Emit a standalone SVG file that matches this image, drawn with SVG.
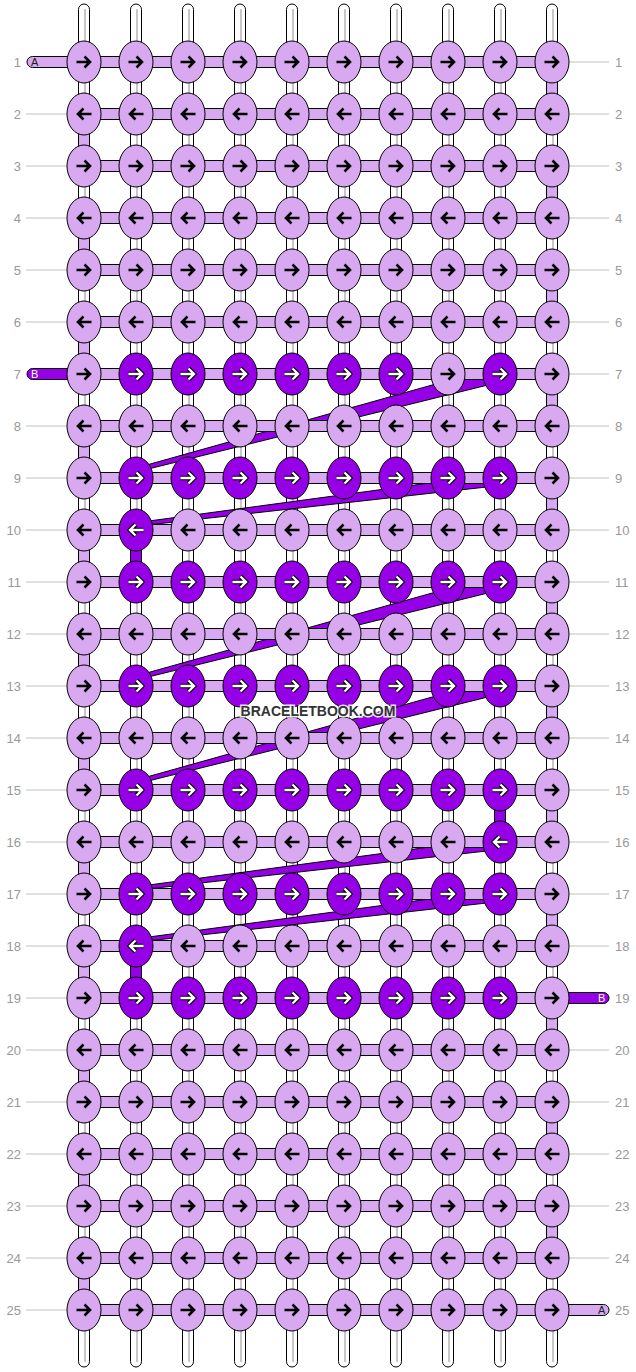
<svg xmlns="http://www.w3.org/2000/svg" xmlns:xlink="http://www.w3.org/1999/xlink" width="636" height="1372" viewBox="0 0 636 1372">
<style>
.w{fill:#fff;stroke:#000;stroke-width:1}
.wl{stroke:#b4b4b4;stroke-width:1.5}
.la{fill:#D8A8F0;stroke:#000;stroke-width:1}
.pu{fill:#9600E6;stroke:#000;stroke-width:1}
.gl{stroke:#c0c0c0;stroke-width:1}
.num{font-family:"Liberation Sans",Arial,sans-serif;font-size:13px;fill:#999}
.ab{fill:none;stroke:#000;stroke-width:2.6}
.ao{fill:none;stroke:#000;stroke-width:4.6}
.aw{fill:none;stroke:#fff;stroke-width:2.4}
.stub{font-family:"Liberation Sans",Arial,sans-serif;font-size:11px}
.wm{font-family:"Liberation Sans",Arial,sans-serif;font-size:14px;font-weight:bold;fill:#333;stroke:#fff;stroke-width:3;stroke-opacity:0.85;paint-order:stroke}
</style>
<defs>
<path id="ar" d="M-7.5,0H5.5M0.5,-5.5L6,0L0.5,5.5"/>
<path id="al" d="M7.5,0H-5.5M-0.5,-5.5L-6,0L-0.5,5.5"/>
<g id="LR"><ellipse rx="17" ry="21" class="la"/><use href="#ar" class="ab"/></g>
<g id="LL"><ellipse rx="17" ry="21" class="la"/><use href="#al" class="ab"/></g>
<g id="DR"><ellipse rx="17" ry="21" class="pu"/><use href="#ar" class="ao"/><use href="#ar" class="aw"/></g>
<g id="DL"><ellipse rx="17" ry="21" class="pu"/><use href="#al" class="ao"/><use href="#al" class="aw"/></g>
</defs>
<g id="label-lines">
<line class="gl" x1="569" y1="62" x2="609" y2="62"/>
<line class="gl" x1="26" y1="114" x2="67" y2="114"/><line class="gl" x1="569" y1="114" x2="609" y2="114"/>
<line class="gl" x1="26" y1="166" x2="67" y2="166"/><line class="gl" x1="569" y1="166" x2="609" y2="166"/>
<line class="gl" x1="26" y1="218" x2="67" y2="218"/><line class="gl" x1="569" y1="218" x2="609" y2="218"/>
<line class="gl" x1="26" y1="270" x2="67" y2="270"/><line class="gl" x1="569" y1="270" x2="609" y2="270"/>
<line class="gl" x1="26" y1="322" x2="67" y2="322"/><line class="gl" x1="569" y1="322" x2="609" y2="322"/>
<line class="gl" x1="569" y1="374" x2="609" y2="374"/>
<line class="gl" x1="26" y1="426" x2="67" y2="426"/><line class="gl" x1="569" y1="426" x2="609" y2="426"/>
<line class="gl" x1="26" y1="478" x2="67" y2="478"/><line class="gl" x1="569" y1="478" x2="609" y2="478"/>
<line class="gl" x1="26" y1="530" x2="67" y2="530"/><line class="gl" x1="569" y1="530" x2="609" y2="530"/>
<line class="gl" x1="26" y1="582" x2="67" y2="582"/><line class="gl" x1="569" y1="582" x2="609" y2="582"/>
<line class="gl" x1="26" y1="634" x2="67" y2="634"/><line class="gl" x1="569" y1="634" x2="609" y2="634"/>
<line class="gl" x1="26" y1="686" x2="67" y2="686"/><line class="gl" x1="569" y1="686" x2="609" y2="686"/>
<line class="gl" x1="26" y1="738" x2="67" y2="738"/><line class="gl" x1="569" y1="738" x2="609" y2="738"/>
<line class="gl" x1="26" y1="790" x2="67" y2="790"/><line class="gl" x1="569" y1="790" x2="609" y2="790"/>
<line class="gl" x1="26" y1="842" x2="67" y2="842"/><line class="gl" x1="569" y1="842" x2="609" y2="842"/>
<line class="gl" x1="26" y1="894" x2="67" y2="894"/><line class="gl" x1="569" y1="894" x2="609" y2="894"/>
<line class="gl" x1="26" y1="946" x2="67" y2="946"/><line class="gl" x1="569" y1="946" x2="609" y2="946"/>
<line class="gl" x1="26" y1="998" x2="67" y2="998"/>
<line class="gl" x1="26" y1="1050" x2="67" y2="1050"/><line class="gl" x1="569" y1="1050" x2="609" y2="1050"/>
<line class="gl" x1="26" y1="1102" x2="67" y2="1102"/><line class="gl" x1="569" y1="1102" x2="609" y2="1102"/>
<line class="gl" x1="26" y1="1154" x2="67" y2="1154"/><line class="gl" x1="569" y1="1154" x2="609" y2="1154"/>
<line class="gl" x1="26" y1="1206" x2="67" y2="1206"/><line class="gl" x1="569" y1="1206" x2="609" y2="1206"/>
<line class="gl" x1="26" y1="1258" x2="67" y2="1258"/><line class="gl" x1="569" y1="1258" x2="609" y2="1258"/>
<line class="gl" x1="26" y1="1310" x2="67" y2="1310"/>
</g>
<g id="connectors">
<g id="warps">
<rect class="w" x="78.5" y="4" width="11" height="1363" rx="5.5"/><line class="wl" x1="85" y1="9" x2="85" y2="1362"/>
<rect class="w" x="130.5" y="4" width="11" height="1363" rx="5.5"/><line class="wl" x1="137" y1="9" x2="137" y2="1362"/>
<rect class="w" x="182.5" y="4" width="11" height="1363" rx="5.5"/><line class="wl" x1="189" y1="9" x2="189" y2="1362"/>
<rect class="w" x="234.5" y="4" width="11" height="1363" rx="5.5"/><line class="wl" x1="241" y1="9" x2="241" y2="1362"/>
<rect class="w" x="286.5" y="4" width="11" height="1363" rx="5.5"/><line class="wl" x1="293" y1="9" x2="293" y2="1362"/>
<rect class="w" x="338.5" y="4" width="11" height="1363" rx="5.5"/><line class="wl" x1="345" y1="9" x2="345" y2="1362"/>
<rect class="w" x="390.5" y="4" width="11" height="1363" rx="5.5"/><line class="wl" x1="397" y1="9" x2="397" y2="1362"/>
<rect class="w" x="442.5" y="4" width="11" height="1363" rx="5.5"/><line class="wl" x1="449" y1="9" x2="449" y2="1362"/>
<rect class="w" x="494.5" y="4" width="11" height="1363" rx="5.5"/><line class="wl" x1="501" y1="9" x2="501" y2="1362"/>
<rect class="w" x="546.5" y="4" width="11" height="1363" rx="5.5"/><line class="wl" x1="553" y1="9" x2="553" y2="1362"/>
</g>
<g id="edge-wraps">
<rect class="la" x="546.5" y="77" width="11" height="22"/>
<rect class="la" x="546.5" y="181" width="11" height="22"/>
<rect class="la" x="546.5" y="285" width="11" height="22"/>
<rect class="la" x="546.5" y="389" width="11" height="22"/>
<rect class="la" x="546.5" y="493" width="11" height="22"/>
<rect class="la" x="546.5" y="597" width="11" height="22"/>
<rect class="la" x="546.5" y="701" width="11" height="22"/>
<rect class="la" x="546.5" y="805" width="11" height="22"/>
<rect class="la" x="546.5" y="909" width="11" height="22"/>
<rect class="la" x="546.5" y="1013" width="11" height="22"/>
<rect class="la" x="546.5" y="1117" width="11" height="22"/>
<rect class="la" x="546.5" y="1221" width="11" height="22"/>
<rect class="la" x="78.5" y="129" width="11" height="22"/>
<rect class="la" x="78.5" y="233" width="11" height="22"/>
<rect class="la" x="78.5" y="337" width="11" height="22"/>
<rect class="la" x="78.5" y="441" width="11" height="22"/>
<rect class="la" x="78.5" y="545" width="11" height="22"/>
<rect class="la" x="78.5" y="649" width="11" height="22"/>
<rect class="la" x="78.5" y="753" width="11" height="22"/>
<rect class="la" x="78.5" y="857" width="11" height="22"/>
<rect class="la" x="78.5" y="961" width="11" height="22"/>
<rect class="la" x="78.5" y="1065" width="11" height="22"/>
<rect class="la" x="78.5" y="1169" width="11" height="22"/>
<rect class="la" x="78.5" y="1273" width="11" height="22"/>
</g>
<g id="carried-B">
<polygon class="pu" points="136,468 500,366 500,382 136,472"/>
<polygon class="pu" points="136,522.75 500,473.5 500,485.5 136,526.25"/>
<polygon class="pu" points="136,676 500,574 500,590 136,680"/>
<polygon class="pu" points="136,780 500,678 500,694 136,784"/>
<polygon class="pu" points="136,886.75 500,837.5 500,849.5 136,890.25"/>
<polygon class="pu" points="136,938.75 500,889.5 500,901.5 136,942.25"/>
</g>
<g id="rows">
<rect class="la" x="84" y="56.5" width="468" height="11"/>
<rect class="la" x="84" y="108.5" width="468" height="11"/>
<rect class="la" x="84" y="160.5" width="468" height="11"/>
<rect class="la" x="84" y="212.5" width="468" height="11"/>
<rect class="la" x="84" y="264.5" width="468" height="11"/>
<rect class="la" x="84" y="316.5" width="468" height="11"/>
<rect class="la" x="84" y="368.5" width="468" height="11"/>
<rect class="la" x="84" y="420.5" width="468" height="11"/>
<rect class="la" x="84" y="472.5" width="468" height="11"/>
<rect class="la" x="84" y="524.5" width="468" height="11"/>
<rect class="la" x="84" y="576.5" width="468" height="11"/>
<rect class="la" x="84" y="628.5" width="468" height="11"/>
<rect class="la" x="84" y="680.5" width="468" height="11"/>
<rect class="la" x="84" y="732.5" width="468" height="11"/>
<rect class="la" x="84" y="784.5" width="468" height="11"/>
<rect class="la" x="84" y="836.5" width="468" height="11"/>
<rect class="la" x="84" y="888.5" width="468" height="11"/>
<rect class="la" x="84" y="940.5" width="468" height="11"/>
<rect class="la" x="84" y="992.5" width="468" height="11"/>
<rect class="la" x="84" y="1044.5" width="468" height="11"/>
<rect class="la" x="84" y="1096.5" width="468" height="11"/>
<rect class="la" x="84" y="1148.5" width="468" height="11"/>
<rect class="la" x="84" y="1200.5" width="468" height="11"/>
<rect class="la" x="84" y="1252.5" width="468" height="11"/>
<rect class="la" x="84" y="1304.5" width="468" height="11"/>
</g>
<g id="B-verticals">
<rect class="pu" x="130.5" y="545" width="11" height="22"/>
<rect class="pu" x="494.5" y="805" width="11" height="22"/>
<rect class="pu" x="130.5" y="961" width="11" height="22"/>
</g>
<g id="stubs">
<rect class="la" x="27" y="56.5" width="60" height="11" rx="5.5"/>
<text class="stub" x="31" y="66" fill="#222">A</text>
<rect class="pu" x="27" y="368.5" width="60" height="11" rx="5.5"/>
<text class="stub" x="31" y="378" fill="#fff">B</text>
<rect class="pu" x="549" y="992.5" width="60" height="11" rx="5.5"/>
<text class="stub" x="598" y="1002" fill="#fff">B</text>
<rect class="la" x="549" y="1304.5" width="60" height="11" rx="5.5"/>
<text class="stub" x="598" y="1314" fill="#222">A</text>
</g>
</g>
<g id="knots">
<g id="k1-1" transform="translate(84,62)"><use href="#LR"/></g><g id="k1-2" transform="translate(136,62)"><use href="#LR"/></g><g id="k1-3" transform="translate(188,62)"><use href="#LR"/></g><g id="k1-4" transform="translate(240,62)"><use href="#LR"/></g><g id="k1-5" transform="translate(292,62)"><use href="#LR"/></g><g id="k1-6" transform="translate(344,62)"><use href="#LR"/></g><g id="k1-7" transform="translate(396,62)"><use href="#LR"/></g><g id="k1-8" transform="translate(448,62)"><use href="#LR"/></g><g id="k1-9" transform="translate(500,62)"><use href="#LR"/></g><g id="k1-10" transform="translate(552,62)"><use href="#LR"/></g>
<g id="k2-1" transform="translate(84,114)"><use href="#LL"/></g><g id="k2-2" transform="translate(136,114)"><use href="#LL"/></g><g id="k2-3" transform="translate(188,114)"><use href="#LL"/></g><g id="k2-4" transform="translate(240,114)"><use href="#LL"/></g><g id="k2-5" transform="translate(292,114)"><use href="#LL"/></g><g id="k2-6" transform="translate(344,114)"><use href="#LL"/></g><g id="k2-7" transform="translate(396,114)"><use href="#LL"/></g><g id="k2-8" transform="translate(448,114)"><use href="#LL"/></g><g id="k2-9" transform="translate(500,114)"><use href="#LL"/></g><g id="k2-10" transform="translate(552,114)"><use href="#LL"/></g>
<g id="k3-1" transform="translate(84,166)"><use href="#LR"/></g><g id="k3-2" transform="translate(136,166)"><use href="#LR"/></g><g id="k3-3" transform="translate(188,166)"><use href="#LR"/></g><g id="k3-4" transform="translate(240,166)"><use href="#LR"/></g><g id="k3-5" transform="translate(292,166)"><use href="#LR"/></g><g id="k3-6" transform="translate(344,166)"><use href="#LR"/></g><g id="k3-7" transform="translate(396,166)"><use href="#LR"/></g><g id="k3-8" transform="translate(448,166)"><use href="#LR"/></g><g id="k3-9" transform="translate(500,166)"><use href="#LR"/></g><g id="k3-10" transform="translate(552,166)"><use href="#LR"/></g>
<g id="k4-1" transform="translate(84,218)"><use href="#LL"/></g><g id="k4-2" transform="translate(136,218)"><use href="#LL"/></g><g id="k4-3" transform="translate(188,218)"><use href="#LL"/></g><g id="k4-4" transform="translate(240,218)"><use href="#LL"/></g><g id="k4-5" transform="translate(292,218)"><use href="#LL"/></g><g id="k4-6" transform="translate(344,218)"><use href="#LL"/></g><g id="k4-7" transform="translate(396,218)"><use href="#LL"/></g><g id="k4-8" transform="translate(448,218)"><use href="#LL"/></g><g id="k4-9" transform="translate(500,218)"><use href="#LL"/></g><g id="k4-10" transform="translate(552,218)"><use href="#LL"/></g>
<g id="k5-1" transform="translate(84,270)"><use href="#LR"/></g><g id="k5-2" transform="translate(136,270)"><use href="#LR"/></g><g id="k5-3" transform="translate(188,270)"><use href="#LR"/></g><g id="k5-4" transform="translate(240,270)"><use href="#LR"/></g><g id="k5-5" transform="translate(292,270)"><use href="#LR"/></g><g id="k5-6" transform="translate(344,270)"><use href="#LR"/></g><g id="k5-7" transform="translate(396,270)"><use href="#LR"/></g><g id="k5-8" transform="translate(448,270)"><use href="#LR"/></g><g id="k5-9" transform="translate(500,270)"><use href="#LR"/></g><g id="k5-10" transform="translate(552,270)"><use href="#LR"/></g>
<g id="k6-1" transform="translate(84,322)"><use href="#LL"/></g><g id="k6-2" transform="translate(136,322)"><use href="#LL"/></g><g id="k6-3" transform="translate(188,322)"><use href="#LL"/></g><g id="k6-4" transform="translate(240,322)"><use href="#LL"/></g><g id="k6-5" transform="translate(292,322)"><use href="#LL"/></g><g id="k6-6" transform="translate(344,322)"><use href="#LL"/></g><g id="k6-7" transform="translate(396,322)"><use href="#LL"/></g><g id="k6-8" transform="translate(448,322)"><use href="#LL"/></g><g id="k6-9" transform="translate(500,322)"><use href="#LL"/></g><g id="k6-10" transform="translate(552,322)"><use href="#LL"/></g>
<g id="k7-1" transform="translate(84,374)"><use href="#LR"/></g><g id="k7-2" transform="translate(136,374)"><use href="#DR"/></g><g id="k7-3" transform="translate(188,374)"><use href="#DR"/></g><g id="k7-4" transform="translate(240,374)"><use href="#DR"/></g><g id="k7-5" transform="translate(292,374)"><use href="#DR"/></g><g id="k7-6" transform="translate(344,374)"><use href="#DR"/></g><g id="k7-7" transform="translate(396,374)"><use href="#DR"/></g><g id="k7-8" transform="translate(448,374)"><use href="#LR"/></g><g id="k7-9" transform="translate(500,374)"><use href="#DR"/></g><g id="k7-10" transform="translate(552,374)"><use href="#LR"/></g>
<g id="k8-1" transform="translate(84,426)"><use href="#LL"/></g><g id="k8-2" transform="translate(136,426)"><use href="#LL"/></g><g id="k8-3" transform="translate(188,426)"><use href="#LL"/></g><g id="k8-4" transform="translate(240,426)"><use href="#LL"/></g><g id="k8-5" transform="translate(292,426)"><use href="#LL"/></g><g id="k8-6" transform="translate(344,426)"><use href="#LL"/></g><g id="k8-7" transform="translate(396,426)"><use href="#LL"/></g><g id="k8-8" transform="translate(448,426)"><use href="#LL"/></g><g id="k8-9" transform="translate(500,426)"><use href="#LL"/></g><g id="k8-10" transform="translate(552,426)"><use href="#LL"/></g>
<g id="k9-1" transform="translate(84,478)"><use href="#LR"/></g><g id="k9-2" transform="translate(136,478)"><use href="#DR"/></g><g id="k9-3" transform="translate(188,478)"><use href="#DR"/></g><g id="k9-4" transform="translate(240,478)"><use href="#DR"/></g><g id="k9-5" transform="translate(292,478)"><use href="#DR"/></g><g id="k9-6" transform="translate(344,478)"><use href="#DR"/></g><g id="k9-7" transform="translate(396,478)"><use href="#DR"/></g><g id="k9-8" transform="translate(448,478)"><use href="#DR"/></g><g id="k9-9" transform="translate(500,478)"><use href="#DR"/></g><g id="k9-10" transform="translate(552,478)"><use href="#LR"/></g>
<g id="k10-1" transform="translate(84,530)"><use href="#LL"/></g><g id="k10-2" transform="translate(136,530)"><use href="#DL"/></g><g id="k10-3" transform="translate(188,530)"><use href="#LL"/></g><g id="k10-4" transform="translate(240,530)"><use href="#LL"/></g><g id="k10-5" transform="translate(292,530)"><use href="#LL"/></g><g id="k10-6" transform="translate(344,530)"><use href="#LL"/></g><g id="k10-7" transform="translate(396,530)"><use href="#LL"/></g><g id="k10-8" transform="translate(448,530)"><use href="#LL"/></g><g id="k10-9" transform="translate(500,530)"><use href="#LL"/></g><g id="k10-10" transform="translate(552,530)"><use href="#LL"/></g>
<g id="k11-1" transform="translate(84,582)"><use href="#LR"/></g><g id="k11-2" transform="translate(136,582)"><use href="#DR"/></g><g id="k11-3" transform="translate(188,582)"><use href="#DR"/></g><g id="k11-4" transform="translate(240,582)"><use href="#DR"/></g><g id="k11-5" transform="translate(292,582)"><use href="#DR"/></g><g id="k11-6" transform="translate(344,582)"><use href="#DR"/></g><g id="k11-7" transform="translate(396,582)"><use href="#DR"/></g><g id="k11-8" transform="translate(448,582)"><use href="#DR"/></g><g id="k11-9" transform="translate(500,582)"><use href="#DR"/></g><g id="k11-10" transform="translate(552,582)"><use href="#LR"/></g>
<g id="k12-1" transform="translate(84,634)"><use href="#LL"/></g><g id="k12-2" transform="translate(136,634)"><use href="#LL"/></g><g id="k12-3" transform="translate(188,634)"><use href="#LL"/></g><g id="k12-4" transform="translate(240,634)"><use href="#LL"/></g><g id="k12-5" transform="translate(292,634)"><use href="#LL"/></g><g id="k12-6" transform="translate(344,634)"><use href="#LL"/></g><g id="k12-7" transform="translate(396,634)"><use href="#LL"/></g><g id="k12-8" transform="translate(448,634)"><use href="#LL"/></g><g id="k12-9" transform="translate(500,634)"><use href="#LL"/></g><g id="k12-10" transform="translate(552,634)"><use href="#LL"/></g>
<g id="k13-1" transform="translate(84,686)"><use href="#LR"/></g><g id="k13-2" transform="translate(136,686)"><use href="#DR"/></g><g id="k13-3" transform="translate(188,686)"><use href="#DR"/></g><g id="k13-4" transform="translate(240,686)"><use href="#DR"/></g><g id="k13-5" transform="translate(292,686)"><use href="#DR"/></g><g id="k13-6" transform="translate(344,686)"><use href="#DR"/></g><g id="k13-7" transform="translate(396,686)"><use href="#DR"/></g><g id="k13-8" transform="translate(448,686)"><use href="#DR"/></g><g id="k13-9" transform="translate(500,686)"><use href="#DR"/></g><g id="k13-10" transform="translate(552,686)"><use href="#LR"/></g>
<g id="k14-1" transform="translate(84,738)"><use href="#LL"/></g><g id="k14-2" transform="translate(136,738)"><use href="#LL"/></g><g id="k14-3" transform="translate(188,738)"><use href="#LL"/></g><g id="k14-4" transform="translate(240,738)"><use href="#LL"/></g><g id="k14-5" transform="translate(292,738)"><use href="#LL"/></g><g id="k14-6" transform="translate(344,738)"><use href="#LL"/></g><g id="k14-7" transform="translate(396,738)"><use href="#LL"/></g><g id="k14-8" transform="translate(448,738)"><use href="#LL"/></g><g id="k14-9" transform="translate(500,738)"><use href="#LL"/></g><g id="k14-10" transform="translate(552,738)"><use href="#LL"/></g>
<g id="k15-1" transform="translate(84,790)"><use href="#LR"/></g><g id="k15-2" transform="translate(136,790)"><use href="#DR"/></g><g id="k15-3" transform="translate(188,790)"><use href="#DR"/></g><g id="k15-4" transform="translate(240,790)"><use href="#DR"/></g><g id="k15-5" transform="translate(292,790)"><use href="#DR"/></g><g id="k15-6" transform="translate(344,790)"><use href="#DR"/></g><g id="k15-7" transform="translate(396,790)"><use href="#DR"/></g><g id="k15-8" transform="translate(448,790)"><use href="#DR"/></g><g id="k15-9" transform="translate(500,790)"><use href="#DR"/></g><g id="k15-10" transform="translate(552,790)"><use href="#LR"/></g>
<g id="k16-1" transform="translate(84,842)"><use href="#LL"/></g><g id="k16-2" transform="translate(136,842)"><use href="#LL"/></g><g id="k16-3" transform="translate(188,842)"><use href="#LL"/></g><g id="k16-4" transform="translate(240,842)"><use href="#LL"/></g><g id="k16-5" transform="translate(292,842)"><use href="#LL"/></g><g id="k16-6" transform="translate(344,842)"><use href="#LL"/></g><g id="k16-7" transform="translate(396,842)"><use href="#LL"/></g><g id="k16-8" transform="translate(448,842)"><use href="#LL"/></g><g id="k16-9" transform="translate(500,842)"><use href="#DL"/></g><g id="k16-10" transform="translate(552,842)"><use href="#LL"/></g>
<g id="k17-1" transform="translate(84,894)"><use href="#LR"/></g><g id="k17-2" transform="translate(136,894)"><use href="#DR"/></g><g id="k17-3" transform="translate(188,894)"><use href="#DR"/></g><g id="k17-4" transform="translate(240,894)"><use href="#DR"/></g><g id="k17-5" transform="translate(292,894)"><use href="#DR"/></g><g id="k17-6" transform="translate(344,894)"><use href="#DR"/></g><g id="k17-7" transform="translate(396,894)"><use href="#DR"/></g><g id="k17-8" transform="translate(448,894)"><use href="#DR"/></g><g id="k17-9" transform="translate(500,894)"><use href="#DR"/></g><g id="k17-10" transform="translate(552,894)"><use href="#LR"/></g>
<g id="k18-1" transform="translate(84,946)"><use href="#LL"/></g><g id="k18-2" transform="translate(136,946)"><use href="#DL"/></g><g id="k18-3" transform="translate(188,946)"><use href="#LL"/></g><g id="k18-4" transform="translate(240,946)"><use href="#LL"/></g><g id="k18-5" transform="translate(292,946)"><use href="#LL"/></g><g id="k18-6" transform="translate(344,946)"><use href="#LL"/></g><g id="k18-7" transform="translate(396,946)"><use href="#LL"/></g><g id="k18-8" transform="translate(448,946)"><use href="#LL"/></g><g id="k18-9" transform="translate(500,946)"><use href="#LL"/></g><g id="k18-10" transform="translate(552,946)"><use href="#LL"/></g>
<g id="k19-1" transform="translate(84,998)"><use href="#LR"/></g><g id="k19-2" transform="translate(136,998)"><use href="#DR"/></g><g id="k19-3" transform="translate(188,998)"><use href="#DR"/></g><g id="k19-4" transform="translate(240,998)"><use href="#DR"/></g><g id="k19-5" transform="translate(292,998)"><use href="#DR"/></g><g id="k19-6" transform="translate(344,998)"><use href="#DR"/></g><g id="k19-7" transform="translate(396,998)"><use href="#DR"/></g><g id="k19-8" transform="translate(448,998)"><use href="#DR"/></g><g id="k19-9" transform="translate(500,998)"><use href="#DR"/></g><g id="k19-10" transform="translate(552,998)"><use href="#LR"/></g>
<g id="k20-1" transform="translate(84,1050)"><use href="#LL"/></g><g id="k20-2" transform="translate(136,1050)"><use href="#LL"/></g><g id="k20-3" transform="translate(188,1050)"><use href="#LL"/></g><g id="k20-4" transform="translate(240,1050)"><use href="#LL"/></g><g id="k20-5" transform="translate(292,1050)"><use href="#LL"/></g><g id="k20-6" transform="translate(344,1050)"><use href="#LL"/></g><g id="k20-7" transform="translate(396,1050)"><use href="#LL"/></g><g id="k20-8" transform="translate(448,1050)"><use href="#LL"/></g><g id="k20-9" transform="translate(500,1050)"><use href="#LL"/></g><g id="k20-10" transform="translate(552,1050)"><use href="#LL"/></g>
<g id="k21-1" transform="translate(84,1102)"><use href="#LR"/></g><g id="k21-2" transform="translate(136,1102)"><use href="#LR"/></g><g id="k21-3" transform="translate(188,1102)"><use href="#LR"/></g><g id="k21-4" transform="translate(240,1102)"><use href="#LR"/></g><g id="k21-5" transform="translate(292,1102)"><use href="#LR"/></g><g id="k21-6" transform="translate(344,1102)"><use href="#LR"/></g><g id="k21-7" transform="translate(396,1102)"><use href="#LR"/></g><g id="k21-8" transform="translate(448,1102)"><use href="#LR"/></g><g id="k21-9" transform="translate(500,1102)"><use href="#LR"/></g><g id="k21-10" transform="translate(552,1102)"><use href="#LR"/></g>
<g id="k22-1" transform="translate(84,1154)"><use href="#LL"/></g><g id="k22-2" transform="translate(136,1154)"><use href="#LL"/></g><g id="k22-3" transform="translate(188,1154)"><use href="#LL"/></g><g id="k22-4" transform="translate(240,1154)"><use href="#LL"/></g><g id="k22-5" transform="translate(292,1154)"><use href="#LL"/></g><g id="k22-6" transform="translate(344,1154)"><use href="#LL"/></g><g id="k22-7" transform="translate(396,1154)"><use href="#LL"/></g><g id="k22-8" transform="translate(448,1154)"><use href="#LL"/></g><g id="k22-9" transform="translate(500,1154)"><use href="#LL"/></g><g id="k22-10" transform="translate(552,1154)"><use href="#LL"/></g>
<g id="k23-1" transform="translate(84,1206)"><use href="#LR"/></g><g id="k23-2" transform="translate(136,1206)"><use href="#LR"/></g><g id="k23-3" transform="translate(188,1206)"><use href="#LR"/></g><g id="k23-4" transform="translate(240,1206)"><use href="#LR"/></g><g id="k23-5" transform="translate(292,1206)"><use href="#LR"/></g><g id="k23-6" transform="translate(344,1206)"><use href="#LR"/></g><g id="k23-7" transform="translate(396,1206)"><use href="#LR"/></g><g id="k23-8" transform="translate(448,1206)"><use href="#LR"/></g><g id="k23-9" transform="translate(500,1206)"><use href="#LR"/></g><g id="k23-10" transform="translate(552,1206)"><use href="#LR"/></g>
<g id="k24-1" transform="translate(84,1258)"><use href="#LL"/></g><g id="k24-2" transform="translate(136,1258)"><use href="#LL"/></g><g id="k24-3" transform="translate(188,1258)"><use href="#LL"/></g><g id="k24-4" transform="translate(240,1258)"><use href="#LL"/></g><g id="k24-5" transform="translate(292,1258)"><use href="#LL"/></g><g id="k24-6" transform="translate(344,1258)"><use href="#LL"/></g><g id="k24-7" transform="translate(396,1258)"><use href="#LL"/></g><g id="k24-8" transform="translate(448,1258)"><use href="#LL"/></g><g id="k24-9" transform="translate(500,1258)"><use href="#LL"/></g><g id="k24-10" transform="translate(552,1258)"><use href="#LL"/></g>
<g id="k25-1" transform="translate(84,1310)"><use href="#LR"/></g><g id="k25-2" transform="translate(136,1310)"><use href="#LR"/></g><g id="k25-3" transform="translate(188,1310)"><use href="#LR"/></g><g id="k25-4" transform="translate(240,1310)"><use href="#LR"/></g><g id="k25-5" transform="translate(292,1310)"><use href="#LR"/></g><g id="k25-6" transform="translate(344,1310)"><use href="#LR"/></g><g id="k25-7" transform="translate(396,1310)"><use href="#LR"/></g><g id="k25-8" transform="translate(448,1310)"><use href="#LR"/></g><g id="k25-9" transform="translate(500,1310)"><use href="#LR"/></g><g id="k25-10" transform="translate(552,1310)"><use href="#LR"/></g>
</g>
<g id="row-labels" class="num">
<g text-anchor="end">
<text x="21" y="66.5">1</text><text x="21" y="118.5">2</text><text x="21" y="170.5">3</text><text x="21" y="222.5">4</text><text x="21" y="274.5">5</text><text x="21" y="326.5">6</text><text x="21" y="378.5">7</text><text x="21" y="430.5">8</text><text x="21" y="482.5">9</text><text x="21" y="534.5">10</text><text x="21" y="586.5">11</text><text x="21" y="638.5">12</text><text x="21" y="690.5">13</text><text x="21" y="742.5">14</text><text x="21" y="794.5">15</text><text x="21" y="846.5">16</text><text x="21" y="898.5">17</text><text x="21" y="950.5">18</text><text x="21" y="1002.5">19</text><text x="21" y="1054.5">20</text><text x="21" y="1106.5">21</text><text x="21" y="1158.5">22</text><text x="21" y="1210.5">23</text><text x="21" y="1262.5">24</text><text x="21" y="1314.5">25</text>
</g>
<g text-anchor="start">
<text x="615" y="66.5">1</text><text x="615" y="118.5">2</text><text x="615" y="170.5">3</text><text x="615" y="222.5">4</text><text x="615" y="274.5">5</text><text x="615" y="326.5">6</text><text x="615" y="378.5">7</text><text x="615" y="430.5">8</text><text x="615" y="482.5">9</text><text x="615" y="534.5">10</text><text x="615" y="586.5">11</text><text x="615" y="638.5">12</text><text x="615" y="690.5">13</text><text x="615" y="742.5">14</text><text x="615" y="794.5">15</text><text x="615" y="846.5">16</text><text x="615" y="898.5">17</text><text x="615" y="950.5">18</text><text x="615" y="1002.5">19</text><text x="615" y="1054.5">20</text><text x="615" y="1106.5">21</text><text x="615" y="1158.5">22</text><text x="615" y="1210.5">23</text><text x="615" y="1262.5">24</text><text x="615" y="1314.5">25</text>
</g>
</g>
<text class="wm" x="318" y="716" text-anchor="middle">BRACELETBOOK.COM</text>
</svg>
